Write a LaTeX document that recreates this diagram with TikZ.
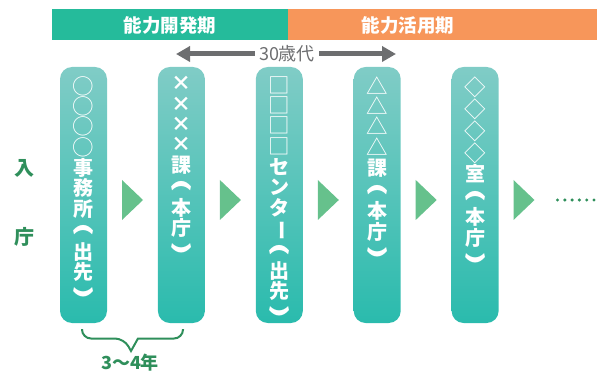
\documentclass[tikz,border=0pt]{standalone}
\usepackage{fontspec}
\usepackage{graphicx}
\newfontfamily\jp{Noto Sans CJK JP}
\usetikzlibrary{arrows.meta,calc}
\definecolor{bgreen}{HTML}{25BB9B}
\definecolor{borange}{HTML}{F7965A}
\definecolor{boxtop}{HTML}{80CCC6}
\definecolor{boxbot}{HTML}{2ABBAD}
\definecolor{trigreen}{HTML}{66C18C}
\definecolor{dkgreen}{HTML}{2F8F5B}
\definecolor{agegray}{HTML}{6D6E70}
\newcommand{\vlp}{\raisebox{-5pt}{\scalebox{0.95}[1.8]{\rotatebox[origin=c]{-90}{(}}}}
\newcommand{\vrp}{\raisebox{-4.5pt}{\scalebox{0.95}[1.8]{\rotatebox[origin=c]{-90}{)}}}}
\newcommand{\vbar}{\rotatebox[origin=c]{-90}{ー}}
\newcommand{\thin}[1]{{\mdseries\fontsize{21.5}{20.3}\selectfont #1}}
\begin{document}
\begin{tikzpicture}[x=1pt,y=-1pt,
  banner/.style={inner sep=0, draw=none},
  bannertext/.style={text=white, font=\jp\bfseries\fontsize{18.5}{20}\selectfont, inner sep=0},
  stage/.style={rounded corners=12pt, minimum width=47pt, minimum height=256pt, inner sep=0, top color=boxtop, bottom color=boxbot, draw=none},
  stagetext/.style={text=white, font=\jp\bfseries\fontsize{20}{20.3}\selectfont, align=center, inner sep=0, anchor=north},
  tri/.pic={\fill[trigreen] (-10.5,-20) -- (10.5,0) -- (-10.5,20) -- cycle;},
  agetext/.style={text=agegray, font=\jp\fontsize{18}{19}\selectfont, inner xsep=4pt, inner ysep=0},
  agearrow/.style={draw=agegray, line width=5pt, -{Triangle[length=14pt,width=15pt]}},
  brace/.style={draw=dkgreen, line width=2pt},
  side/.style={text=dkgreen, font=\jp\bfseries\fontsize{20}{21}\selectfont, inner sep=0},
  yeartext/.style={text=dkgreen, font=\jp\bfseries\fontsize{18}{19}\selectfont, inner sep=0}
]
\useasboundingbox (0,0) rectangle (597,374);
% banners
\node[banner, fill=bgreen, minimum width=236pt, minimum height=31pt] (p1) at (170,24.5) {};
\node[banner, fill=borange, minimum width=309pt, minimum height=31pt] (p2) at (442.5,24.5) {};
\node[bannertext] (p1t) at (170,25) {能力開発期};
\node[bannertext] (p2t) at (408,25) {能力活用期};
% age arrow
\node[agetext] (age) at (287,54) {30歳代};
\coordinate (al) at (176,54);
\coordinate (ar) at (396,54);
\draw[agearrow] (age.west) -- (al);
\draw[agearrow] (age.east) -- (ar);
% stages
\node[stage] (b1) at (83.5,195) {};
\node[stage] (b2) at (181.4,195) {};
\node[stage] (b3) at (279.3,195) {};
\node[stage] (b4) at (377.2,195) {};
\node[stage] (b5) at (475.1,195) {};
\node[stagetext] (t1) at ($(b1.north)+(0,9.5)$) {\thin{○}\\\thin{○}\\\thin{○}\\\thin{○}\\事\\務\\所\\\vlp\\出\\先\\\vrp};
\node[stagetext] (t2) at ($(b2.north)+(0,9.5)$) {×\\×\\×\\×\\課\\\vlp\\本\\庁\\\vrp};
\node[stagetext] (t3) at ($(b3.north)+(0,9.5)$) {\thin{□}\\\thin{□}\\\thin{□}\\\thin{□}\\セ\\ン\\タ\\\vbar\\\vlp\\出\\先\\\vrp};
\node[stagetext] (t4) at ($(b4.north)+(0,9.5)$) {\thin{△}\\\thin{△}\\\thin{△}\\\thin{△}\\課\\\vlp\\本\\庁\\\vrp};
\node[stagetext] (t5) at ($(b5.north)+(0,9.5)$) {\thin{◇}\\\thin{◇}\\\thin{◇}\\\thin{◇}\\室\\\vlp\\本\\庁\\\vrp};
% triangles
\pic at (132.5,200) {tri};
\pic at (230.4,200) {tri};
\pic at (328.3,200) {tri};
\pic at (426.2,200) {tri};
\pic at (524,200) {tri};
% dots
\foreach \i in {0,...,5} \fill[dkgreen] (557.5+\i*7.3,200) circle (1.7);
% side text
\node[side] (s1) at (24,168) {入};
\node[side] (s2) at (24,237) {庁};
% brace
\coordinate (bl) at ($(b1.south)+(-1.5,6)$);
\coordinate (br) at ($(b2.south)+(1.6,6)$);
\draw[brace] (bl) [rounded corners=9pt] |- (124,338.5) [sharp corners] -- (131,351) -- (138,338.5) [rounded corners=9pt] -| (br);
\node[yeartext] (yr) at (130,363) {3～4年};
\end{tikzpicture}
\end{document}
